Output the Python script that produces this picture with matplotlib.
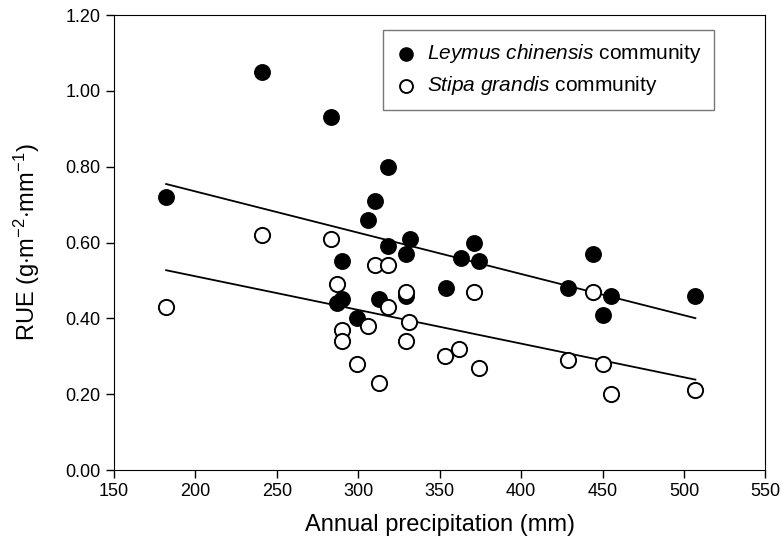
import numpy as np
import matplotlib
matplotlib.use("Agg")
import matplotlib.pyplot as plt

plt.rcParams["font.family"] = ["Liberation Sans", "DejaVu Sans"]
plt.rcParams["mathtext.fontset"] = "custom"
plt.rcParams["mathtext.rm"] = "Liberation Sans"
plt.rcParams["mathtext.it"] = "Liberation Sans:italic"

# Leymus chinensis community
ley_precip = [182, 241, 283, 287, 290, 290, 299, 306, 310, 313, 318, 318,
              329, 329, 332, 354, 363, 371, 374, 429, 444, 450, 455, 507]
ley_rue = [0.72, 1.05, 0.93, 0.44, 0.55, 0.45, 0.40, 0.66, 0.71, 0.45, 0.80, 0.59,
           0.57, 0.46, 0.61, 0.48, 0.56, 0.60, 0.55, 0.48, 0.57, 0.41, 0.46, 0.46]

# Stipa grandis community
sti_precip = [182, 241, 283, 287, 290, 290, 299, 306, 310, 313, 318, 318,
              329, 329, 331, 353, 362, 371, 374, 429, 444, 450, 455, 507]
sti_rue = [0.43, 0.62, 0.61, 0.49, 0.37, 0.34, 0.28, 0.38, 0.54, 0.23, 0.54, 0.43,
           0.47, 0.34, 0.39, 0.30, 0.32, 0.47, 0.27, 0.29, 0.47, 0.28, 0.20, 0.21]

fig = plt.figure(figsize=(7.81, 5.44), dpi=100)
ax = fig.add_axes([0.146, 0.136, 0.834, 0.8364])

# regression lines
for xs, ys in [(ley_precip, ley_rue), (sti_precip, sti_rue)]:
    xs = np.array(xs)
    k, b = np.polyfit(xs, ys, 1)
    xl = np.array([xs.min(), xs.max()])
    ax.plot(xl, k * xl + b, color="black", lw=1.3, zorder=1)

ax.scatter(ley_precip, ley_rue, s=120, color="black", edgecolors="black",
           linewidths=1.2, zorder=3,
           label=r"$\it{Leymus\ chinensis}$ community")
ax.scatter(sti_precip, sti_rue, s=120, color="white", edgecolors="black",
           linewidths=1.4, zorder=3,
           label=r"$\it{Stipa\ grandis}$ community")

ax.set_xlim(150, 550)
ax.set_ylim(0, 1.2)
ax.set_xticks(np.arange(150, 551, 50))
ax.set_yticks(np.arange(0, 1.21, 0.2))
ax.set_yticklabels([f"{v:.2f}" for v in np.arange(0, 1.21, 0.2)])
ax.tick_params(direction="out", length=6, width=1, labelsize=13)

ax.set_xlabel("Annual precipitation (mm)", fontsize=17, labelpad=10)
ax.set_ylabel(r"RUE (g$\cdot$m$^{-2}$$\cdot$mm$^{-1}$)", fontsize=17, labelpad=17)

leg = ax.legend(loc="upper right", bbox_to_anchor=(0.9215, 0.968), fontsize=15,
                frameon=True, fancybox=False, edgecolor="#555555",
                handlelength=1.0, handletextpad=0.5, borderpad=0.6,
                labelspacing=0.45, borderaxespad=0, markerscale=0.85)
leg.get_frame().set_linewidth(1.0)

fig.savefig("out.png", dpi=100)
